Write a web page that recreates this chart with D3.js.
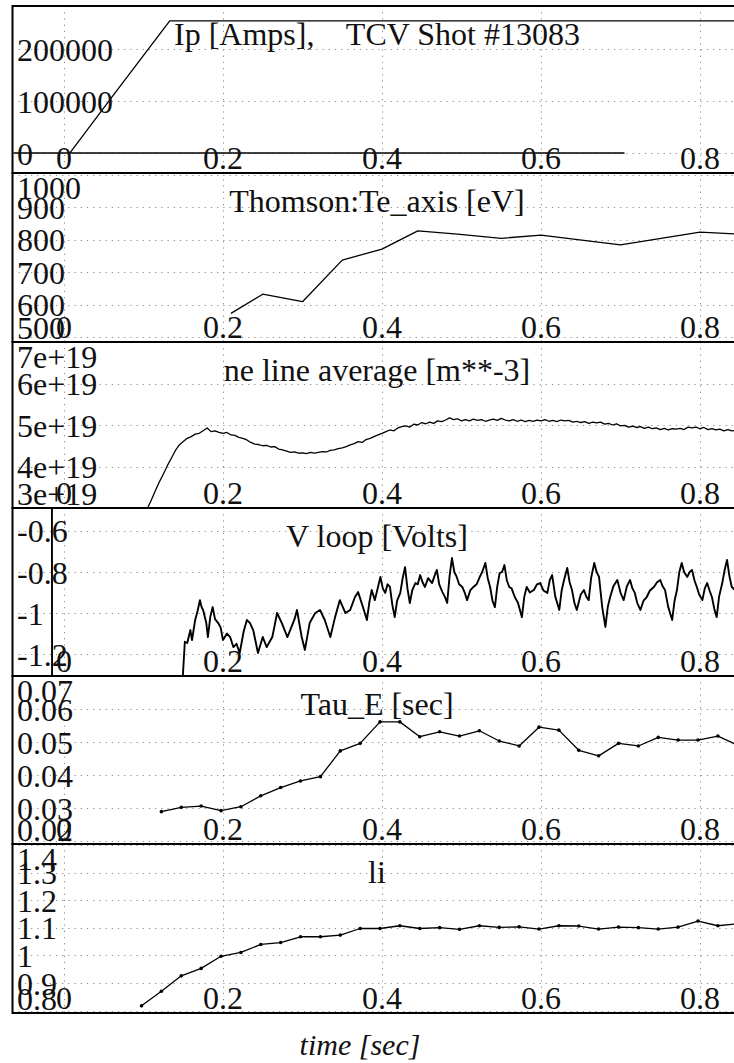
<!DOCTYPE html>
<html><head><meta charset="utf-8">
<script src="https://cdn.jsdelivr.net/npm/d3@7"></script>
<style>
html,body{margin:0;padding:0;background:#fff;}
svg{display:block;}
text{font-family:"Liberation Serif","Times New Roman",serif;fill:#111;}
</style></head>
<body><svg id="c" width="734" height="1063"></svg>
<script>
// ---------- data ----------
const xTickValues = [0, 0.2, 0.4, 0.6, 0.8];
const xTickLabels = ["0", "0.2", "0.4", "0.6", "0.8"];
const xLabel = "time [sec]";

const ipTitle = "Ip [Amps],    TCV Shot #13083";
const ipTicks = [0, 100000, 200000];
const ipTickLabels = ["0", "100000", "200000"];
const ipTrace = [[0.0075, 0], [0.064, 115000], [0.133, 254000], [0.9, 254000]];
const ipZero = [[-0.07, 0], [0.705, 0]];

const teTitle = "Thomson:Te_axis [eV]";
const teTicks = [500, 600, 700, 800, 900, 1000];
const teTickLabels = ["500", "600", "700", "800", "900", "1000"];
const teTime = [0.21, 0.25, 0.30, 0.35, 0.40, 0.445, 0.495, 0.55, 0.60, 0.70, 0.80, 0.90];
const teValues = [574, 633, 610, 738, 772, 828, 818, 805, 815, 785, 824, 812];

const neTitle = "ne line average [m**-3]";
const neTicks = [3e19, 4e19, 5e19, 6e19, 7e19];
const neTickLabels = ["3e+19", "4e+19", "5e+19", "6e+19", "7e+19"];
const neStart = 0.105, neStep = 0.005; // sampling time base
const neValues = [ // units of 1e19
 2.99,3.20,3.42,3.63,3.82,4.02,4.20,4.38,4.52,4.60,4.68,4.72,4.78,4.80,4.86,4.93,4.84,4.86,4.82,4.80,
 4.82,4.76,4.75,4.70,4.68,4.64,4.58,4.54,4.53,4.50,4.51,4.47,4.48,4.42,4.40,4.37,4.34,4.35,4.32,4.33,
 4.31,4.34,4.32,4.34,4.36,4.35,4.39,4.40,4.43,4.45,4.48,4.52,4.55,4.60,4.58,4.65,4.68,4.72,4.76,4.80,
 4.84,4.88,4.86,4.93,4.96,4.98,4.95,5.02,5.00,5.06,5.03,5.07,5.04,5.10,5.08,5.12,5.17,5.13,5.15,5.10,
 5.13,5.10,5.14,5.11,5.13,5.09,5.12,5.14,5.11,5.16,5.12,5.10,5.13,5.09,5.12,5.08,5.11,5.09,5.12,5.10,
 5.13,5.09,5.11,5.08,5.12,5.10,5.11,5.07,5.09,5.06,5.08,5.04,5.07,5.05,5.07,5.02,5.04,5.00,5.03,4.98,
 4.99,4.95,4.97,4.94,4.96,4.92,4.95,4.91,4.93,4.89,4.92,4.88,4.91,4.90,4.92,4.89,4.95,4.93,4.95,4.91,
 4.94,4.89,4.91,4.88,4.90,4.86,4.89,4.86,4.87,4.85];

const vTitle = "V loop [Volts]";
const vTicks = [-1.2, -1, -0.8, -0.6];
const vTickLabels = ["-1.2", "-1", "-0.8", "-0.6"];
const vloop = [
 [-0.07,-0.40],[-0.0152,-0.40],[-0.0150,-1.40],[0.149,-1.40],[0.1493,-1.32],
 [0.152,-1.140],[0.155,-1.146],[0.159,-1.083],[0.161,-1.132],[0.165,-1.034],[0.168,-0.99],[0.171,-0.937],[0.173,-0.97],
 [0.175,-0.985],[0.179,-1.049],[0.181,-1.117],[0.184,-1.02],[0.187,-0.971],[0.190,-1.03],[0.194,-1.049],[0.197,-1.07],
 [0.200,-1.132],[0.205,-1.10],[0.209,-1.117],[0.213,-1.166],[0.217,-1.15],[0.221,-1.195],[0.226,-1.09],[0.230,-1.034],
 [0.234,-1.049],[0.238,-1.083],[0.244,-1.195],[0.250,-1.117],[0.255,-1.166],[0.262,-1.117],[0.265,-1.06],[0.268,-1.000],
 [0.274,-1.049],[0.281,-1.117],[0.287,-1.059],[0.290,-1.03],[0.293,-0.985],[0.299,-1.117],[0.303,-1.180],[0.309,-1.049],
 [0.316,-1.000],[0.322,-0.985],[0.328,-1.034],[0.335,-1.117],[0.341,-1.020],[0.347,-0.937],[0.354,-1.000],[0.360,-0.985],
 [0.366,-0.922],[0.370,-0.898],[0.376,-0.971],[0.381,-1.034],[0.384,-0.95],[0.387,-0.888],[0.391,-0.937],[0.398,-0.824],
 [0.401,-0.88],[0.404,-0.902],[0.407,-0.86],[0.410,-0.873],[0.413,-0.96],[0.416,-1.020],[0.419,-0.94],[0.423,-0.902],
 [0.426,-0.83],[0.429,-0.776],[0.432,-0.88],[0.435,-0.951],[0.438,-0.89],[0.442,-0.854],[0.445,-0.86],[0.448,-0.815],
 [0.451,-0.85],[0.454,-0.873],[0.458,-0.83],[0.463,-0.854],[0.466,-0.82],[0.469,-0.790],[0.472,-0.86],[0.476,-0.898],
 [0.479,-0.92],[0.482,-0.951],[0.485,-0.82],[0.488,-0.732],[0.491,-0.80],[0.494,-0.824],[0.497,-0.86],[0.501,-0.873],
 [0.504,-0.90],[0.507,-0.937],[0.511,-0.89],[0.515,-0.873],[0.519,-0.86],[0.523,-0.824],[0.526,-0.80],[0.530,-0.756],
 [0.533,-0.83],[0.536,-0.873],[0.539,-0.94],[0.542,-0.971],[0.545,-0.87],[0.548,-0.805],[0.551,-0.80],[0.554,-0.766],
 [0.557,-0.84],[0.560,-0.873],[0.563,-0.88],[0.567,-0.922],[0.571,-0.95],[0.576,-1.020],[0.579,-0.92],[0.582,-0.873],
 [0.586,-0.90],[0.591,-0.888],[0.595,-0.86],[0.599,-0.854],[0.603,-0.89],[0.608,-0.902],[0.611,-0.84],[0.614,-0.815],
 [0.618,-0.92],[0.623,-0.985],[0.626,-0.89],[0.629,-0.839],[0.633,-0.780],[0.636,-0.85],[0.639,-0.888],[0.642,-0.95],
 [0.645,-0.985],[0.650,-0.91],[0.654,-0.888],[0.657,-0.92],[0.660,-0.937],[0.663,-0.83],[0.667,-0.756],[0.670,-0.80],
 [0.673,-0.824],[0.677,-0.971],[0.681,-1.068],[0.684,-0.97],[0.687,-0.922],[0.691,-0.87],[0.696,-0.839],[0.700,-0.90],
 [0.704,-0.937],[0.708,-0.87],[0.712,-0.839],[0.715,-0.88],[0.718,-0.902],[0.721,-0.95],[0.725,-0.985],[0.729,-0.94],
 [0.733,-0.922],[0.737,-0.89],[0.742,-0.873],[0.746,-0.85],[0.750,-0.839],[0.753,-0.87],[0.756,-0.888],[0.760,-0.97],
 [0.765,-1.034],[0.768,-0.94],[0.771,-0.888],[0.774,-0.80],[0.777,-0.756],[0.780,-0.80],[0.784,-0.824],[0.787,-0.80],
 [0.790,-0.790],[0.793,-0.84],[0.796,-0.873],[0.799,-0.91],[0.803,-0.937],[0.806,-0.88],[0.809,-0.854],[0.812,-0.89],
 [0.815,-0.922],[0.818,-0.98],[0.821,-1.020],[0.824,-0.92],[0.828,-0.854],[0.831,-0.79],[0.834,-0.741],[0.837,-0.82],
 [0.840,-0.873],[0.847,-0.900]];

const tauTitle = "Tau_E [sec]";
const tauTicks = [0.02, 0.03, 0.04, 0.05, 0.06, 0.07];
const tauTickLabels = ["0.02", "0.03", "0.04", "0.05", "0.06", "0.07"];
const tauTime = [0.1225,0.1475,0.1725,0.1975,0.2225,0.2475,0.2725,0.2975,0.3225,0.3475,0.3725,0.3975,0.4225,
 0.4475,0.4725,0.4975,0.5225,0.5475,0.5725,0.5975,0.6225,0.6475,0.6725,0.6975,0.7225,0.7475,0.7725,0.7975,0.8225,0.8475];
const tauValues = [0.0289,0.0302,0.0306,0.0292,0.0304,0.0337,0.0362,0.0382,0.0395,0.0473,0.0496,0.0561,0.0561,
 0.0516,0.0531,0.0518,0.0534,0.0503,0.0488,0.0545,0.0536,0.0475,0.0458,0.0496,0.0488,0.0514,0.0506,0.0506,0.0518,0.0490];

const liTitle = "li";
const liTicks = [0.8, 0.9, 1, 1.1, 1.2, 1.3, 1.4];
const liTickLabels = ["0.8", "0.9", "1", "1.1", "1.2", "1.3", "1.4"];
const liTime = [0.0975,0.1225,0.1475,0.1725,0.1975,0.2225,0.2475,0.2725,0.2975,0.3225,0.3475,0.3725,0.3975,0.4225,
 0.4475,0.4725,0.4975,0.5225,0.5475,0.5725,0.5975,0.6225,0.6475,0.6725,0.6975,0.7225,0.7475,0.7725,0.7975,0.8225,0.8475];
const liValues = [0.817,0.870,0.926,0.953,0.997,1.011,1.040,1.047,1.068,1.068,1.074,1.098,1.098,1.108,
 1.098,1.101,1.095,1.108,1.102,1.104,1.096,1.108,1.107,1.096,1.103,1.101,1.096,1.103,1.125,1.108,1.115];

// ---------- layout ----------
const W = 734, H = 1063;
const frameLeft = 12.5, frameRight = 760;
const edges = [6, 173, 342, 508, 676, 844, 1013];
const FONT = 32;
const FAMILY = "'Liberation Serif','Times New Roman',serif";
const svg = d3.select("#c");
const x = d3.scaleLinear().domain([0, 0.8]).range([64, 700]);

const panels = [
  {title: ipTitle, domain: [-38500, 282700], ticks: ipTicks, labels: ipTickLabels,
   series: [{data: ipTrace}, {data: ipZero}]},
  {title: teTitle, domain: [486, 1006], ticks: teTicks, labels: teTickLabels,
   series: [{data: teTime.map((t, i) => [t, teValues[i]])}]},
  {title: neTitle, domain: [3.0e19, 7.0e19], ticks: neTicks, labels: neTickLabels,
   series: [{data: neValues.map((v, i) => [neStart + i * neStep, v * 1e19])}]},
  {title: vTitle, domain: [-1.307, -0.488], ticks: vTicks, labels: vTickLabels,
   series: [{data: vloop, width: 1.9}]},
  {title: tauTitle, domain: [0.0191, 0.0700], ticks: tauTicks, labels: tauTickLabels,
   series: [{data: tauTime.map((t, i) => [t, tauValues[i]]), dots: true}]},
  {title: liTitle, domain: [0.791, 1.405], ticks: liTicks, labels: liTickLabels,
   series: [{data: liTime.map((t, i) => [t, liValues[i]]), dots: true}]}
];

const defs = svg.append("defs");

panels.forEach((p, k) => {
  const top = edges[k], bottom = edges[k + 1];
  const y = d3.scaleLinear().domain(p.domain).range([bottom, top]);
  const g = svg.append("g");
  const cid = "clip" + k;
  defs.append("clipPath").attr("id", cid).append("rect")
    .attr("x", frameLeft + 1).attr("y", top + 1).attr("width", W).attr("height", bottom - top - 2);

  // grid
  const grid = g.append("g").attr("clip-path", `url(#${cid})`)
    .attr("stroke", "#8a8a8a").attr("stroke-width", 1).attr("stroke-dasharray", "1.2,5");
  grid.selectAll("line.h").data(p.ticks).join("line")
    .attr("x1", frameLeft).attr("x2", W).attr("y1", d => Math.round(y(d)) + 0.5).attr("y2", d => Math.round(y(d)) + 0.5);
  grid.selectAll("line.v").data(xTickValues).join("line")
    .attr("x1", d => Math.round(x(d)) + 0.5).attr("x2", d => Math.round(x(d)) + 0.5).attr("y1", top).attr("y2", bottom);

  // traces
  const line = d3.line().x(d => x(d[0])).y(d => y(d[1]));
  const tg = g.append("g").attr("clip-path", `url(#${cid})`);
  p.series.forEach(s => {
    tg.append("path").datum(s.data).attr("d", line).attr("fill", "none")
      .attr("stroke", "#000").attr("stroke-width", s.width || 1.3).attr("stroke-linejoin", "round");
    if (s.dots) {
      tg.selectAll(null).data(s.data).join("circle")
        .attr("cx", d => x(d[0])).attr("cy", d => y(d[1])).attr("r", 1.8).attr("fill", "#000");
    }
  });

  // y tick labels (clamped inside panel)
  g.selectAll("text.yl").data(p.ticks).join("text")
    .attr("x", 17)
    .attr("y", d => Math.max(top + 14, Math.min(bottom - 15, y(d))))
    .attr("dy", "0.36em")
    .style("font-family", FAMILY).style("font-size", FONT + "px")
    .text((d, i) => p.labels[i]);

  // x tick labels
  g.selectAll("text.xl").data(xTickValues).join("text")
    .attr("x", d => x(d)).attr("y", bottom - 4)
    .attr("text-anchor", "middle")
    .style("font-family", FAMILY).style("font-size", FONT + "px")
    .text((d, i) => xTickLabels[i]);

  // title
  g.append("text").attr("x", 377).attr("y", top + 39)
    .attr("text-anchor", "middle").attr("xml:space", "preserve")
    .style("white-space", "pre").style("font-family", FAMILY).style("font-size", FONT + "px")
    .text(p.title);

  // panel frame
  g.append("rect").attr("x", frameLeft).attr("y", top).attr("width", frameRight - frameLeft)
    .attr("height", bottom - top).attr("fill", "none").attr("stroke", "#000").attr("stroke-width", 2);
});

svg.append("text").attr("x", 360).attr("y", 1055).attr("text-anchor", "middle")
  .style("font-family", FAMILY).style("font-style", "italic").style("font-size", "30px").text(xLabel);
</script></body></html>
